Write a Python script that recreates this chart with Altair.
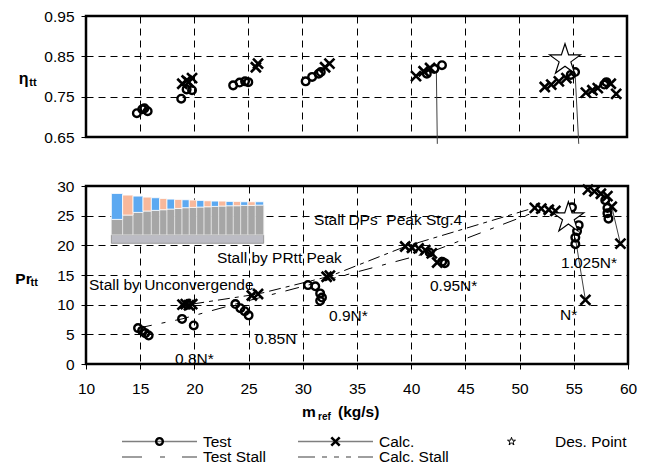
import altair as alt
import pandas as pd

# ---------------- data ----------------
# top panel: total-to-total efficiency
eta_test_m = [14.7, 15.2, 15.4, 15.7, 18.8, 19.3, 19.8, 23.6, 24.2, 24.7, 25.0,
              30.3, 30.9, 31.5, 31.7, 41.5, 42.2, 42.9, 54.8, 55.2, 57.9, 58.1]
eta_test = [0.709, 0.719, 0.721, 0.714, 0.745, 0.768, 0.766, 0.778, 0.785, 0.788, 0.786,
            0.788, 0.799, 0.807, 0.811, 0.807, 0.819, 0.828, 0.804, 0.811, 0.780, 0.786]
eta_calc_m = [18.9, 19.3, 19.8, 19.5, 25.7, 25.9, 32.1, 32.5, 40.5, 41.2, 41.8,
              52.4, 53.0, 53.7, 54.4, 56.2, 56.8, 57.3, 58.5, 59.0]
eta_calc = [0.782, 0.790, 0.796, 0.786, 0.823, 0.832, 0.823, 0.832, 0.801, 0.813, 0.821,
            0.774, 0.780, 0.788, 0.796, 0.760, 0.766, 0.771, 0.782, 0.757]
eta_des_m = [54.27]
eta_des = [0.841]
eta_seg_m = [42.38, 55.20]
eta_seg_v = [0.815, 0.809]
eta_seg_m2 = [42.47, 55.54]
eta_seg_v2 = [0.633, 0.633]

# bottom panel: total-to-total pressure ratio
pr_test_m = [14.8, 15.17, 15.47, 15.78, 18.86, 19.94, 23.78, 24.24, 24.64, 25.0,
             30.48, 31.15, 31.6, 31.77, 31.6, 41.7, 42.86, 43.1,
             54.83, 55.45, 55.3, 55.14, 55.14, 57.9, 58.1, 58.1, 58.2]
pr_test = [6.05, 5.6, 5.2, 4.8, 7.6, 6.5, 10.1, 9.4, 8.9, 8.2,
           13.3, 13.1, 11.9, 11.2, 10.65, 18.8, 17.25, 17.0,
           26.4, 23.4, 22.4, 21.3, 20.2, 27.6, 26.3, 25.4, 24.5]
pr_calc_m = [18.9, 19.2, 19.5, 19.8, 25.3, 25.87, 32.2, 32.5,
             39.45, 40.07, 40.68, 41.3, 41.9, 42.4,
             51.4, 52.0, 52.69, 53.3, 56.07,
             56.3, 56.9, 57.5, 58.1, 58.5, 59.3]
pr_calc = [10.0, 10.1, 9.9, 10.1, 11.55, 11.8, 14.7, 14.9,
           19.8, 19.6, 19.5, 19.2, 18.65, 17.1,
           26.3, 26.2, 26.0, 25.8, 10.8,
           29.4, 29.1, 28.7, 28.3, 26.5, 20.3]
pr_des_m = [54.5]
pr_des = [24.62]
test_stall_m = [14.8, 18.86, 23.78, 30.48, 41.7, 51.4]
test_stall_pr = [6.05, 7.6, 10.1, 13.3, 18.8, 25.6]
calc_stall_m = [19.8, 25.87, 32.5, 39.45, 51.3]
calc_stall_pr = [10.1, 11.8, 14.8, 19.8, 26.3]
pr_seg_m = [55.14, 58.5]
pr_seg_v = [21.3, 26.5]
pr_seg_m2 = [56.07, 59.3]
pr_seg_v2 = [10.8, 20.3]

# annotations (text, anchor in data units)
anno_text = ["Stall DPs\u00a0 Peak Stg.4", "Stall by PRtt Peak", "Stall by Unconvergende",
             "0.8N*", "0.85N", "0.9N*", "0.95N*", "1.025N*", "N*"]
anno_m = [31.03, 22.08, 10.28, 18.21, 25.59, 32.42, 41.73, 53.82, 53.73]
anno_v = [24.32, 17.93, 13.39, 0.79, 4.15, 8.02, 13.23, 17.09, 8.18]

# embedded inset picture (stage loading bars), in plot data units
inset_left = [12.34, 13.38, 14.34, 15.26, 16.03, 16.80, 17.47, 18.18, 18.86, 19.53,
              20.21, 20.89, 21.56, 22.24, 22.92, 23.59, 24.27, 24.94, 25.62]
inset_right = inset_left[1:] + [26.39]
inset_top = [28.74, 28.47, 28.30, 28.13, 28.02, 27.90, 27.79, 27.74, 27.68, 27.63,
             27.57, 27.51, 27.46, 27.46, 27.40, 27.40, 27.34, 27.34, 27.34]
inset_mid = [24.37, 25.10, 25.55, 25.78, 25.89, 26.00, 26.11, 26.22, 26.34, 26.39,
             26.45, 26.50, 26.56, 26.62, 26.67, 26.67, 26.73, 26.73, 26.78]
inset_base = [20.34, 21.75]

x_ticks = [10, 15, 20, 25, 30, 35, 40, 45, 50, 55, 60]
eta_ticks = [0.65, 0.75, 0.85, 0.95]
pr_ticks = [0, 5, 10, 15, 20, 25, 30]

legend_labels = ["Test", "Calc.", "Des. Point", "Test Stall", "Calc. Stall"]

# ---------------- styling ----------------
FONT = "Liberation Sans"
FS = 15.5
GRID_DASH = [7, 5]
X_PATH = "M-1,-1L1,1M-1,1L1,-1"
STAR_PATH = ("M0,-1L0.225,-0.309L0.951,-0.309L0.363,0.118L0.588,0.809L0,0.382"
             "L-0.588,0.809L-0.363,0.118L-0.951,-0.309L-0.225,-0.309Z")
BLUE = "#5ca9f1"
ORANGE = "#f8b89b"
CIRC_SIZE = 58
CIRC_SW = 2.4

one = pd.DataFrame({"a": [0]})


def pts(m, v):
    return pd.DataFrame({"m": m, "v": v})


# ---------------- top panel ----------------
xt = alt.X("m:Q", scale=alt.Scale(domain=[10, 60], nice=False, zero=False),
           axis=alt.Axis(values=x_ticks, labels=False, ticks=False, domain=False, grid=True,
                         gridColor="black", gridDash=GRID_DASH, gridWidth=1, title=None))
yt = alt.Y("v:Q", scale=alt.Scale(domain=[0.65, 0.95], nice=False, zero=False),
           axis=alt.Axis(values=eta_ticks, format=".2f", grid=True, gridColor="black",
                         gridDash=GRID_DASH, gridWidth=1, domain=False, tickSize=5,
                         labelPadding=7, title=None))

seg_top = alt.Chart(pd.DataFrame({"m": eta_seg_m, "v": eta_seg_v, "m2": eta_seg_m2, "v2": eta_seg_v2})
                    ).mark_rule(color="#404040", strokeWidth=1).encode(x=xt, y=yt, x2="m2:Q", y2="v2:Q")
circ_top = alt.Chart(pts(eta_test_m, eta_test)).mark_point(
    shape="circle", filled=False, color="black", strokeWidth=CIRC_SW, size=CIRC_SIZE,
    opacity=1).encode(x=xt, y=yt)
cross_top = alt.Chart(pts(eta_calc_m, eta_calc)).mark_point(
    shape=X_PATH, filled=False, color="black", strokeWidth=2.6, size=100, opacity=1).encode(x=xt, y=yt)
star_top = alt.Chart(pts(eta_des_m, eta_des)).mark_point(
    shape=STAR_PATH, filled=True, fill="white", stroke="black", strokeWidth=1.2, size=1050,
    opacity=1).encode(x=xt, y=yt)
bound_top = alt.Chart(one).mark_rule(opacity=0, color="white").encode(
    x=alt.value(-84), x2=alt.value(-84), y=alt.value(-14), y2=alt.value(-14))
eta_t1 = alt.Chart(one).mark_text(text="η", font=FONT, fontSize=16, fontWeight="bold",
                                  align="left", baseline="alphabetic", color="black").encode(
    x=alt.value(-67.3), y=alt.value(67.7))
eta_t2 = alt.Chart(one).mark_text(text="tt", font=FONT, fontSize=11, fontWeight="bold",
                                  align="left", baseline="alphabetic", color="black").encode(
    x=alt.value(-56.7), y=alt.value(69.5))

top = alt.layer(seg_top, circ_top, cross_top, star_top, bound_top, eta_t1, eta_t2).properties(
    width=541, height=121)

# ---------------- bottom panel ----------------
xb = alt.X("m:Q", scale=alt.Scale(domain=[10, 60], nice=False, zero=False),
           axis=alt.Axis(values=x_ticks, grid=True, gridColor="black", gridDash=GRID_DASH,
                         gridWidth=1, domain=False, tickSize=5, labelPadding=12,
                         labelFlush=False, labelOverlap=False, title=None))
yb = alt.Y("v:Q", scale=alt.Scale(domain=[0, 30], nice=False, zero=False),
           axis=alt.Axis(values=pr_ticks, grid=True, gridColor="black", gridDash=GRID_DASH,
                         gridWidth=1, domain=False, tickSize=5, labelPadding=7, title=None))

bars = pd.DataFrame({"m": inset_left, "m2": inset_right, "v": inset_mid, "v2": inset_top,
                     "c": [BLUE if i % 2 == 0 else ORANGE for i in range(len(inset_left))]})
hatch = pd.DataFrame({"m": inset_left, "m2": inset_right,
                      "v": [inset_base[1]] * len(inset_left), "v2": inset_mid})
base = pd.DataFrame({"m": [inset_left[0]], "m2": [inset_right[-1]],
                     "v": [inset_base[0]], "v2": [inset_base[1]]})

inset_base_l = alt.Chart(base).mark_rect(fill="#bcbcc4", stroke="#8a8a8a", strokeWidth=0.8).encode(
    x=xb, y=yb, x2="m2:Q", y2="v2:Q")
inset_hatch_l = alt.Chart(hatch).mark_rect(fill="#a6a6a6", stroke="#e2e2e2", strokeWidth=0.8).encode(
    x=xb, y=yb, x2="m2:Q", y2="v2:Q")
inset_bars_l = alt.Chart(bars).mark_rect(stroke="white", strokeWidth=0.8).encode(
    x=xb, y=yb, x2="m2:Q", y2="v2:Q", color=alt.Color("c:N", scale=None))

test_stall_l = alt.Chart(pts(test_stall_m, test_stall_pr)).mark_line(
    color="black", strokeWidth=1, strokeDash=[14, 10, 4, 10]).encode(x=xb, y=yb)
calc_stall_l = alt.Chart(pts(calc_stall_m, calc_stall_pr)).mark_line(
    color="black", strokeWidth=1, strokeDash=[12, 5, 4, 5]).encode(x=xb, y=yb)
seg_bot = alt.Chart(pd.DataFrame({"m": pr_seg_m, "v": pr_seg_v, "m2": pr_seg_m2, "v2": pr_seg_v2})
                    ).mark_rule(color="#404040", strokeWidth=1).encode(x=xb, y=yb, x2="m2:Q", y2="v2:Q")
circ_bot = alt.Chart(pts(pr_test_m, pr_test)).mark_point(
    shape="circle", filled=False, color="black", strokeWidth=CIRC_SW, size=CIRC_SIZE,
    opacity=1).encode(x=xb, y=yb)
cross_bot = alt.Chart(pts(pr_calc_m, pr_calc)).mark_point(
    shape=X_PATH, filled=False, color="black", strokeWidth=2.6, size=100, opacity=1).encode(x=xb, y=yb)
star_bot = alt.Chart(pts(pr_des_m, pr_des)).mark_point(
    shape=STAR_PATH, filled=True, fill="white", stroke="black", strokeWidth=1.2, size=1050,
    opacity=1).encode(x=xb, y=yb)
anno_l = alt.Chart(pd.DataFrame({"m": anno_m, "v": anno_v, "t": anno_text})).mark_text(
    font=FONT, fontSize=FS, align="left", baseline="middle", color="black").encode(
    x=xb, y=yb, text="t:N")
pr_t1 = alt.Chart(one).mark_text(text="Pr", font=FONT, fontSize=15.5, fontWeight="bold",
                                 align="left", baseline="alphabetic", color="black").encode(
    x=alt.value(-70.7), y=alt.value(97.7))
pr_t2 = alt.Chart(one).mark_text(text="tt", font=FONT, fontSize=11, fontWeight="bold",
                                 align="left", baseline="alphabetic", color="black").encode(
    x=alt.value(-55.5), y=alt.value(99.5))

bot = alt.layer(inset_base_l, inset_hatch_l, inset_bars_l, test_stall_l, calc_stall_l, seg_bot,
                circ_bot, cross_bot, star_bot, anno_l, pr_t1, pr_t2).properties(width=542, height=178)


# ---------------- x title + legend panel ----------------
def txt(s, x, y, size=FS, weight="normal", baseline="middle"):
    return alt.Chart(one).mark_text(text=s, font=FONT, fontSize=size, fontWeight=weight,
                                    align="left", baseline=baseline, color="black").encode(
        x=alt.value(x), y=alt.value(y))


def seg(x1, x2, y, dash=None):
    kw = {"strokeDash": dash} if dash else {}
    return alt.Chart(one).mark_rule(color="#7f7f7f", strokeWidth=1.5, **kw).encode(
        x=alt.value(x1), x2=alt.value(x2), y=alt.value(y), y2=alt.value(y))


def sym(shape, x, y, size, sw, filled=False):
    kw = dict(fill="white") if filled else {}
    return alt.Chart(one).mark_point(shape=shape, filled=filled, stroke="black", strokeWidth=sw,
                                     size=size, opacity=1, **kw).encode(x=alt.value(x), y=alt.value(y))


R1, R2 = 28.5, 44
COLS = [36, 212, 388]
L = 75
leg_layers = [
    txt("m", 216, 4, size=15.5, weight="bold", baseline="alphabetic"),
    txt("ref", 232, 6.5, size=10, weight="bold", baseline="alphabetic"),
    txt("(kg/s)", 252, 4, size=15.5, weight="bold", baseline="alphabetic"),
    seg(COLS[0], COLS[0] + L, R1), sym("circle", COLS[0] + L / 2, R1, 45, 2.4),
    txt(legend_labels[0], COLS[0] + L + 6, R1),
    seg(COLS[1], COLS[1] + L, R1), sym(X_PATH, COLS[1] + L / 2, R1, 70, 2.6),
    txt(legend_labels[1], COLS[1] + L + 6, R1),
    sym(STAR_PATH, COLS[2] + L / 2, R1, 70, 1, filled=True),
    txt(legend_labels[2], COLS[2] + L + 6, R1),
    seg(COLS[0], COLS[0] + L, R2, [20, 18, 5, 17]),
    txt(legend_labels[3], COLS[0] + L + 6, R2),
    seg(COLS[1], COLS[1] + L, R2, [17, 7, 5, 7, 5, 7, 5, 7]),
    txt(legend_labels[4], COLS[1] + L + 6, R2),
]
leg = alt.layer(*leg_layers).properties(width=542, height=50,
                                        view=alt.ViewBackground(stroke="transparent"))

chart = alt.vconcat(top, bot, leg, spacing=49, bounds="flush").properties(
    padding={"left": 0, "top": 0, "right": 0, "bottom": 0}
).configure_view(stroke="black", strokeWidth=2.5).configure_axis(
    labelFont=FONT, labelFontSize=FS, labelColor="black", tickColor="black", tickWidth=1)

chart.save("out.html", embed_options={"renderer": "svg", "actions": False})
